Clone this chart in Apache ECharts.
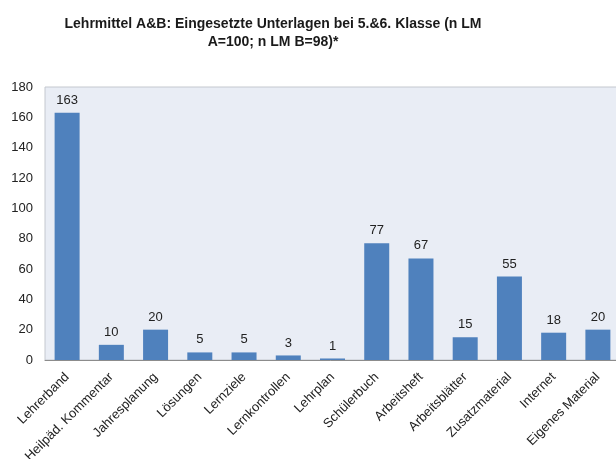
<!DOCTYPE html>
<html>
<head>
<meta charset="utf-8">
<script src="https://cdn.jsdelivr.net/npm/echarts@6/dist/echarts.min.js"></script>
<style>
  html, body { margin: 0; padding: 0; background: #fff; }
  #chart { width: 616px; height: 459px; }
</style>
</head>
<body>
<div id="chart"></div>
<script>
// Teaching materials used in grades 5 and 6
const categories = [
  'Lehrerband', 'Heilpäd. Kommentar', 'Jahresplanung', 'Lösungen', 'Lernziele',
  'Lernkontrollen', 'Lehrplan', 'Schülerbuch', 'Arbeitsheft', 'Arbeitsblätter',
  'Zusatzmaterial', 'Internet', 'Eigenes Material'
];
const counts = [163, 10, 20, 5, 5, 3, 1, 77, 67, 15, 55, 18, 20];
const yTicks = [0, 20, 40, 60, 80, 100, 120, 140, 160, 180];

const chart = echarts.init(document.getElementById('chart'));
chart.setOption({
  animation: false,
  title: {
    text: 'Lehrmittel A&B: Eingesetzte Unterlagen bei 5.&6. Klasse (n LM\nA=100; n LM B=98)*',
    left: 268,
    top: 10,
    textAlign: 'center',
    textStyle: {
      fontFamily: 'Liberation Sans',
      fontSize: 14,
      fontWeight: 'bold',
      color: '#1a1a1a',
      lineHeight: 18
    }
  },
  grid: {
    left: 45,
    top: 87,
    width: 575,
    height: 273,
    containLabel: false,
    outerBoundsMode: 'none',
    show: true,
    backgroundColor: '#e9edf5',
    borderColor: '#c4c8cf',
    borderWidth: 1
  },
  xAxis: {
    type: 'category',
    data: categories,
    axisLine: { lineStyle: { color: '#8c8c8c', width: 1 } },
    axisTick: { show: false },
    axisLabel: {
      interval: 0,
      rotate: 45,
      margin: 15,
      fontFamily: 'Liberation Sans',
      fontSize: 13,
      color: '#222'
    }
  },
  yAxis: {
    type: 'value',
    min: yTicks[0],
    max: yTicks[yTicks.length - 1],
    interval: 20,
    splitLine: { show: false },
    axisLine: { show: false },
    axisTick: { show: false },
    axisLabel: {
      margin: 12,
      fontFamily: 'Liberation Sans',
      fontSize: 13,
      color: '#222'
    }
  },
  series: [{
    type: 'bar',
    data: counts,
    barWidth: 25,
    itemStyle: { color: '#4f81bd' },
    label: {
      show: true,
      position: 'top',
      distance: 6,
      fontFamily: 'Liberation Sans',
      fontSize: 13,
      color: '#222'
    }
  }]
});
</script>
</body>
</html>
